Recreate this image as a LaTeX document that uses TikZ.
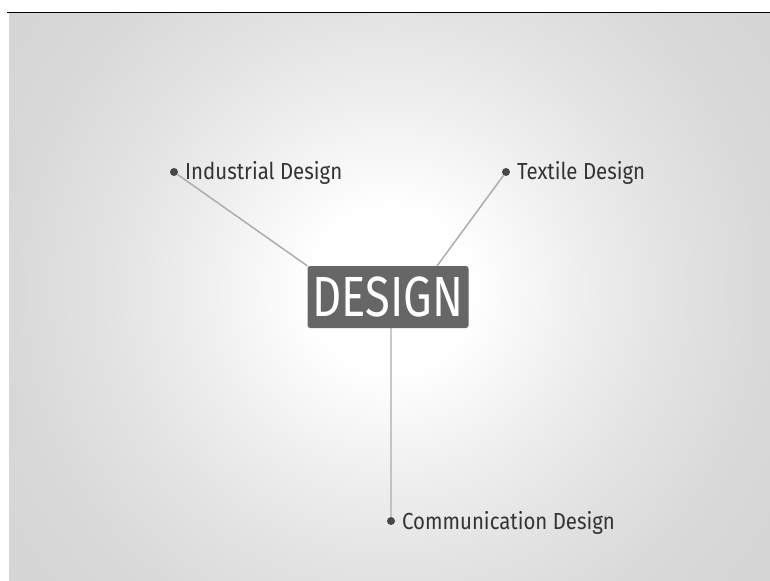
\documentclass[tikz,border=0pt]{standalone}
\usepackage{fontspec}
\usepackage{xcolor}
\usetikzlibrary{positioning}
\setmainfont{Fira Sans}
\newfontfamily\condfont[FakeStretch=0.88]{Fira Sans}
\newfontfamily\boxfont[FakeStretch=0.8]{Fira Sans}

\definecolor{boxgrey}{HTML}{666666}
\definecolor{linkgrey}{HTML}{ABABAB}
\definecolor{textgrey}{HTML}{333333}
\definecolor{edgegrey}{HTML}{D4D4D4}

\pgfdeclareradialshading{glow}{\pgfpoint{0bp}{0bp}}{color(0bp)=(white); color(4bp)=(white);
  color(10bp)=(black!7); color(14bp)=(black!11); color(19bp)=(black!15); color(25bp)=(edgegrey); color(50bp)=(edgegrey)}

\tikzset{
  dot/.style={circle,fill=textgrey!90,inner sep=0pt,minimum size=6pt},
  topic/.style={inner sep=0pt,anchor=west,text=textgrey,text height=12pt,text depth=0pt,
    font=\condfont\fontsize{17.4}{20}\selectfont},
  hub/.style={fill=boxgrey,rounded corners=2pt,minimum width=120.75pt,minimum height=46.5pt,inner sep=0pt,
    text=white,text height=29.25pt,text depth=0pt,font=\boxfont\fontsize{42.5}{44}\selectfont},
  link/.style={linkgrey,line width=1.1pt}
}

\begin{document}
\begin{tikzpicture}[x=0.75pt,y=-0.75pt]
            \useasboundingbox (0,0) rectangle (770,581);
            \begin{scope}
            \clip (9,13) rectangle (770,581);
            \shade[shading=glow] (-110,-210) rectangle (890,790);
            \end{scope}
            \draw[black,line width=1.3pt] (7,12.5) -- (770,12.5);

            \node (ind) at (174,172) [dot] {};
            \node (tex) at (506,172) [dot] {};
            \node (com) at (391,521) [dot] {};
            \coordinate (hubpos) at (388,297);

            \node (indtext) [topic,right=5pt of ind] {Industrial Design};
            \node (textext) [topic,right=5pt of tex] {Textile Design};
            \node (comtext) [topic,right=5pt of com] {Communication Design};

            \draw[link] (ind) -- ([xshift=-60.4pt,yshift=23.25pt]hubpos) (tex) -- ([xshift=36.75pt,yshift=23.25pt]hubpos) (com) -- (com |- hubpos);
            \node (design) at (hubpos) [hub] {DESIGN};
        \end{tikzpicture}
\end{document}
